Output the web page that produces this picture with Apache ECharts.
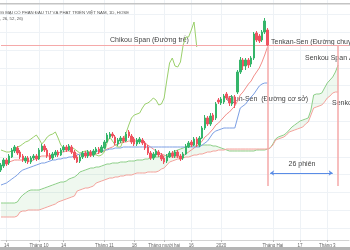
<!DOCTYPE html>
<html><head><meta charset="utf-8">
<script src="https://cdn.jsdelivr.net/npm/echarts@6/dist/echarts.min.js"></script>
<style>html,body{margin:0;padding:0;background:#fff}#c{width:350px;height:250px}</style>
</head><body><div id="c"></div>
<script>
// ---- data (prices, thousand VND) ----
const barCount = 129; // trading-day slots incl. 26 projected slots
const tickIndex = [2, 14, 23, 38, 49, 60, 70, 81, 100, 110, 120];
const tickLabels = ['14', 'Tháng 10', '14', 'Tháng 11', '18', 'Tháng mười hai', '16', '2020', 'Tháng Hai', '17', 'Tháng 3'];

const opens = [35.0,35.4,36.0,35.7,36.3,36.9,37.2,36.8,36.4,35.9, 36.2,35.8,36.2,36.4,36.1,36.9,37.4,37.0,36.5,36.2, 36.5,36.8,36.5,37.0,37.3,37.0,37.3,36.8,36.3,35.9, 36.3,36.7,36.4,36.8,36.5,36.8,37.1,36.8,37.2,37.8, 38.3,38.6,38.3,37.6,37.9,38.2,37.9,38.8,38.4,38.1, 37.6,37.8,38.0,37.7,37.3,36.7,36.2,36.5,36.8,36.5, 36.2,35.9,36.3,36.7,36.4,36.8,36.4,36.2,36.6,37.3, 37.8,37.5,38.1,37.5,38.2,39.2,40.2,39.6,40.5,40.2, 42.0,41.7,41.8,42.6,42.2,41.6,42.3,42.8,44.8,46.0, 45.4,46.0,45.6,46.2,48.7,48.4,48.0,48.8,49.0];
const closes = [35.5,36.0,35.6,36.4,37.0,37.3,36.7,36.3,36.0,36.2, 35.8,36.2,36.4,36.1,37.0,37.4,37.0,36.4,36.1,36.6, 36.8,36.5,37.0,37.3,37.0,37.4,36.8,36.2,35.8,36.3, 36.7,36.4,36.8,36.5,36.9,37.1,36.8,37.3,37.8,38.5, 38.6,38.4,37.7,38.0,38.2,37.9,38.6,38.4,37.8,37.6, 38.0,38.1,37.7,37.2,36.7,36.2,36.6,36.9,36.5,36.1, 35.8,36.4,36.7,36.4,36.8,36.4,36.1,36.6,37.4,37.7, 37.5,38.1,37.6,38.2,39.2,40.2,39.6,40.4,40.0,41.6, 41.8,42.1,42.4,42.2,41.7,42.3,41.6,44.8,46.0,45.4, 46.0,45.5,46.2,48.6,48.0,47.9,48.8,49.9,47.5];
const lows = [34.8,35.2,35.4,35.5,36.2,36.7,36.5,36.1,35.8,35.7, 35.6,35.6,36.0,35.9,36.0,36.8,36.8,36.2,36.0,36.0, 36.3,36.3,36.4,36.8,36.8,36.9,36.6,36.0,35.7,35.7, 36.1,36.2,36.2,36.3,36.3,36.6,36.6,36.7,37.1,37.7, 38.1,38.2,37.5,37.4,37.7,37.7,37.8,38.2,37.6,37.4, 37.4,37.6,37.5,37.0,36.5,36.0,36.0,36.3,36.3,35.9, 35.6,35.7,36.2,36.2,36.2,36.2,35.9,36.0,36.5,37.2, 37.3,37.4,37.3,37.3,38.1,39.0,39.4,39.4,39.8,40.0, 41.6,41.5,41.6,42.0,41.4,41.4,41.2,42.6,44.6,45.0, 45.0,45.2,45.3,46.0,47.8,47.7,47.8,48.6,47.4];
const highs = [35.7,36.2,36.2,36.6,37.2,37.5,37.4,37.0,36.6,36.4, 36.4,36.4,36.6,36.6,37.2,37.6,37.6,37.2,36.7,36.8, 37.0,37.0,37.2,37.5,37.5,37.6,37.5,37.0,36.5,36.5, 36.9,36.9,37.0,37.0,37.1,37.3,37.3,37.5,38.0,38.7, 38.8,38.8,38.5,38.2,38.4,38.4,38.8,39.0,38.6,38.3, 38.2,38.3,38.2,37.9,37.5,36.9,36.8,37.1,37.0,36.7, 36.4,36.6,36.9,36.9,37.0,37.0,36.6,36.8,37.6,37.9, 38.0,38.3,38.3,38.4,39.4,40.5,40.4,40.7,40.7,41.8, 42.2,42.3,42.6,42.8,42.4,42.5,42.5,45.0,46.3,46.2, 46.2,46.2,46.4,48.8,48.9,48.6,49.0,50.2,49.2];

const tenkan = [35.4,35.6,35.7,35.8,35.9,36.0,36.0,36.0,36.0,36.0, 35.9,35.9,36.0,36.2,36.3,36.4,36.4,36.4,36.4,36.5, 36.6,36.7,36.8,36.8,36.9,36.9,36.8,36.7,36.6,36.5, 36.5,36.5,36.5,36.4,36.5,36.6,36.7,36.8,36.9,37.1, 37.2,37.3,37.5,37.6,37.7,37.8,37.8,37.9,37.9,37.9, 37.9,37.9,37.8,37.7,37.5,37.3,37.1,36.9,36.7,36.6, 36.5,36.4,36.4,36.3,36.3,36.3,36.3,36.4,36.6,36.8, 37.0,37.2,37.4,37.6,37.9,38.3,38.5,38.8,39.1,39.5, 39.7,40.0,40.3,40.6,40.8,41.1,41.4,41.9,42.5,42.8, 43.2,43.6,43.9,44.4,44.8,45.2,45.8,46.5,47.3];
const kijun = [33.5,33.6,33.7,33.9,34.1,34.3,34.5,34.8,35.0,35.1, 35.2,35.3,35.4,35.5,35.6,35.7,35.7,35.8,35.9,36.0, 36.0,36.1,36.1,36.2,36.2,36.3,36.3,36.4,36.5,36.6, 36.6,36.7,36.7,36.8,36.8,36.9,36.9,36.9,37.0,37.0, 37.1,37.1,37.2,37.2,37.2,37.3,37.3,37.3,37.3,37.3, 37.3,37.3,37.3,37.3,37.3,37.3,37.3,37.3,37.3,37.3, 37.3,37.3,37.3,37.3,37.3,37.3,37.3,37.3,37.3,37.3, 37.3,37.3,37.3,37.3,37.5,37.7,37.9,38.3,38.7,38.9, 39.0,39.1,39.2,39.2,39.2,39.2,39.2,40.2,41.2,41.4, 41.6,42.0,42.3,42.6,43.0,43.4,43.6,43.7,43.7];
const chikou = [37.0,36.9,36.8,36.8,36.9,37.1,37.3,37.4,37.6,37.8, 37.9,38.1,38.3,38.5,38.1,37.6,37.9,38.3,38.5,38.6, 38.8,38.2,37.5,37.2,37.0,37.2,37.3,37.1,36.9,36.7, 36.8,36.9,36.9,36.7,36.6,36.5,36.4,36.5,36.8,37.7, 38.3,37.9,37.5,37.3,37.3,38.0,38.7,39.5,40.2,40.5, 40.6,40.7,41.2,41.6,41.7,41.9,42.2,42.0,41.5,41.6, 42.2,44.0,45.7,46.2,45.4,45.3,45.8,47.5,48.3,48.3, 49.0,49.8,47.3];
const senkouA = [31.7,31.7,31.7,31.7,31.7,31.7,31.8,32.2,32.5,32.7, 32.9,33.0,33.0,33.0,33.0,33.1,33.2,33.3,33.4,33.5, 33.6,33.7,33.8,33.8,33.9,34.1,34.2,34.3,34.5,34.8, 34.9,35.0,35.1,35.2,35.2,35.3,35.3,35.4,35.5,35.6, 35.6,35.7,35.7,35.7,35.8,35.8,35.8,35.9,35.9,35.9, 36.0,36.0,36.0,36.1,36.1,36.2,36.2,36.3,36.3,36.4, 36.4,36.5,36.6,36.7,36.9,37.0,37.1,37.2,37.3,37.3, 37.4,37.4,37.4,37.4,37.5,37.5,37.5,37.5,37.4,37.4, 37.3,37.2,37.1,37.0,36.9,36.9,36.9,36.9,36.9,36.9, 36.9,36.9,36.9,36.9,37.0,37.0,37.0,37.0,37.1,37.2, 37.6,38.1,38.3,38.4,38.5,38.7,39.0,39.3,39.5,39.7, 39.9,40.0,40.1,40.2,41.0,42.5,42.6,42.6,42.7,43.2, 43.7,44.0,44.3,44.8,45.5];
const senkouB = [30.3,30.3,30.3,30.3,30.3,30.3,30.4,30.8,30.9,30.9, 31.0,31.0,31.0,31.0,31.0,31.1,31.2,31.3,31.4,31.5, 31.6,31.8,31.9,32.0,32.1,32.2,32.3,32.4,32.9,33.0, 33.1,33.2,33.2,33.3,33.4,33.7,33.8,33.9,34.0,34.1, 34.2,34.2,34.3,34.3,34.4,34.4,34.5,34.5,34.5,34.6, 34.7,34.7,34.7,34.7,34.8,34.8,34.8,34.8,34.9,35.1, 35.2,35.5,35.8,35.9,36.0,36.1,36.1,36.2,36.3,36.3, 36.4,36.5,36.5,36.6,36.6,36.7,36.8,36.8,36.9,36.9, 37.0,37.0,37.0,37.1,37.1,37.1,37.1,37.1,37.1,37.1, 37.1,37.1,37.1,37.1,37.1,37.1,37.1,37.1,37.1,37.2, 37.5,38.0,38.1,38.2,38.3,38.5,38.8,38.9,39.0,39.1, 39.2,39.3,39.6,39.8,40.5,41.2,41.3,41.4,41.5,41.8, 42.2,42.4,42.7,42.8,42.8];

const lastBar = 98, cloudEnd = 124;
const arrowFrom = 99, arrowTo = 122, arrowPrice = 34.7;
const markTop = 47.5, markBottom = 33.4;

// ---- build ----
const categories = Array.from({length: barCount}, (_, i) => String(i));
const candles = opens.map((o, i) => [o, closes[i], lows[i], highs[i]]);
const cloudBase = senkouA.map((a, i) => Math.min(a, senkouB[i]));
const cloudUp = senkouA.map((a, i) => Math.max(a - senkouB[i], 0));
const cloudDown = senkouA.map((a, i) => Math.max(senkouB[i] - a, 0));
const tickMap = {}; tickIndex.forEach((k, j) => tickMap[k] = tickLabels[j]);
const isTick = (idx) => tickMap[idx] !== undefined;

const FONT = 'Liberation Sans, Arial, sans-serif';
const chart = echarts.init(document.getElementById('c'), null, {renderer: 'canvas'});
const lineS = (name, data, color) => ({
  name, type: 'line', data, symbol: 'none', silent: true, z: 4,
  lineStyle: {color, width: 1}, xAxisIndex: 0, yAxisIndex: 0
});
const txt = (x, y, text, size, color, align) => ({
  type: 'text', x, y, silent: true, z: 1,
  style: {text, fontSize: size, fill: color, fontFamily: FONT, textAlign: align || 'left', textVerticalAlign: 'middle'}
});

chart.setOption({
  animation: false,
  backgroundColor: '#ffffff',
  grid: [
    {left: 1, right: 1, top: 0, bottom: 10},
    {left: 0, right: 0, top: 14.4, bottom: 22}
  ],
  xAxis: [
    {type: 'category', gridIndex: 0, data: categories, boundaryGap: false,
     axisLine: {lineStyle: {color: '#d4d4d4', width: 1}},
     axisTick: {show: true, interval: isTick, length: 2, lineStyle: {color: '#bbbbbb'}},
     axisLabel: {interval: isTick, formatter: (v, i) => tickMap[i] || '', fontSize: 4.5, color: '#666', margin: 3, fontFamily: FONT},
     splitLine: {show: true, interval: isTick, lineStyle: {color: '#eef2f6', width: 1}}},
    {type: 'value', gridIndex: 1, min: 0, max: 1, show: false}
  ],
  yAxis: [
    {type: 'value', gridIndex: 0, min: 28, max: 52, show: false},
    {type: 'value', gridIndex: 1, min: 0, max: 12, interval: 1,
     axisLine: {show: false}, axisTick: {show: false}, axisLabel: {show: false},
     splitLine: {show: true, lineStyle: {color: '#eef2f6', width: 1}}}
  ],
  series: [
    {type: 'line', data: cloudBase, stack: 'cloud', symbol: 'none', silent: true, z: 2, lineStyle: {opacity: 0}},
    {type: 'line', data: cloudUp, stack: 'cloud', symbol: 'none', silent: true, z: 2, lineStyle: {opacity: 0},
     areaStyle: {color: 'rgba(76,175,80,0.13)'}},
    {type: 'line', data: cloudDown, stack: 'cloud', symbol: 'none', silent: true, z: 2, lineStyle: {opacity: 0},
     areaStyle: {color: 'rgba(239,83,80,0.16)'}},
    lineS('Senkou Span A', senkouA, '#8dcf88'),
    lineS('Senkou Span B', senkouB, '#f4a39c'),
    {name: 'Giá', type: 'candlestick', data: candles, barWidth: 2, z: 5, silent: true,
     itemStyle: {color: '#35b56a', color0: '#ef5360', borderColor: '#35b56a', borderColor0: '#ef5360', borderWidth: 1},
     markLine: {silent: true, animation: false, symbol: 'none', label: {show: false},
       lineStyle: {color: '#f5a9a9', width: 1, type: 'solid'},
       data: [
         {yAxis: closes[lastBar]},
         [{coord: [String(lastBar), markTop], lineStyle: {width: 1.5}}, {coord: [String(lastBar), markBottom]}],
         [{coord: [String(cloudEnd), markTop], lineStyle: {width: 1.5}}, {coord: [String(cloudEnd), markBottom]}]
       ]}},
    lineS('Tenkan-Sen', tenkan, '#f28e8a'),
    Object.assign(lineS('Kijun-Sen', kijun, '#7c9fe4'), {
      markLine: {silent: true, animation: false, symbol: ['arrow', 'arrow'], symbolSize: 4, label: {show: false},
        lineStyle: {color: '#5a8ce6', width: 1, type: 'solid'},
        data: [[{coord: [String(arrowFrom), arrowPrice]}, {coord: [String(arrowTo), arrowPrice]}]]}
    }),
    lineS('Chikou Span', chikou, '#9bd06c')
  ],
  graphic: [
    {type: 'rect', shape: {x: 0, y: 3, width: 350, height: 1.5}, style: {fill: '#c4c4c4'}, silent: true, z: 10},
    {type: 'rect', shape: {x: 0, y: 247, width: 350, height: 3}, style: {fill: '#b5b5b5'}, silent: true, z: 10},
    txt(129, 13, 'NGÂN HÀNG THƯƠNG MẠI CỔ PHẦN ĐẦU TƯ VÀ PHÁT TRIỂN VIỆT NAM, 1D, HOSE', 4.3, '#555', 'right'),
    txt(23, 19, 'Ichimoku Cloud (9, 26, 52, 26)', 4.3, '#555', 'right'),
    txt(110, 40, 'Chikou Span (Đường trễ)', 7, '#444'),
    txt(271, 42, 'Tenkan-Sen (Đường chuyển đổi)', 7, '#444'),
    txt(305, 58, 'Senkou Span A', 7, '#444'),
    txt(227, 99, 'Kijun-Sen  (Đường cơ sở)', 7, '#444'),
    txt(332, 103, 'Senkou Span B', 7, '#444'),
    txt(302, 164, '26 phiên', 7, '#444', 'center')
  ]
});
</script></body></html>
